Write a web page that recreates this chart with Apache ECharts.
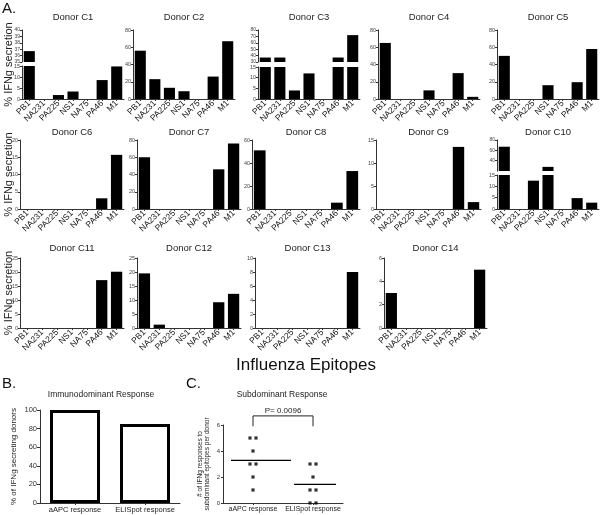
<!DOCTYPE html>
<html><head><meta charset="utf-8">
<script src="https://cdn.jsdelivr.net/npm/echarts@6/dist/echarts.min.js"></script>
<style>html,body{margin:0;padding:0;background:#fff}#c{width:600px;height:515px}</style>
</head><body><div id="c"></div><script>
// ---------------- data ----------------
const categories = ['PB1','NA231','PA225','NS1','NA75','PA46','M1'];
const donorLabels = ['Donor C1','Donor C2','Donor C3','Donor C4','Donor C5','Donor C6','Donor C7','Donor C8','Donor C9','Donor C10','Donor C11','Donor C12','Donor C13','Donor C14'];
const donorC1  = [36.7, 0, 1.8, 3.4, 0, 8.6, 14.8];
const donorC2  = [56, 23, 13, 9, 0, 26, 67];
const donorC3  = [37, 37, 4, 12, 0, 37, 72];
const donorC4  = [65, 0, 0, 10, 0, 30, 2.5];
const donorC5  = [50, 0, 0, 16, 0, 19.5, 58];
const donorC6  = [0, 0, 0, 0, 0, 3.1, 15.7];
const donorC7  = [60, 0, 0, 0, 0, 46, 76];
const donorC8  = [51, 0, 0, 0, 0, 5.5, 33];
const donorC9  = [0, 0, 0, 0, 0, 13.5, 1.5];
const donorC10 = [67, 0, 12.5, 28, 0, 4.8, 2.8];
const donorC11 = [0, 0, 0, 0, 0, 17.1, 20.1];
const donorC12 = [19.5, 1.2, 0, 0, 0, 9.2, 12.2];
const donorC13 = [0, 0, 0, 0, 0, 0, 8];
const donorC14 = [3, 0, 0, 0, 0, 0, 5];
const donorValues = [donorC1,donorC2,donorC3,donorC4,donorC5,donorC6,donorC7,donorC8,donorC9,donorC10,donorC11,donorC12,donorC13,donorC14];
// y scales [min, max, interval]
const donorScales = [[0,15,5],[0,80,20],[0,15,5],[0,80,20],[0,80,20],[0,20,5],[0,80,20],[0,60,20],[0,15,5],[0,15,5],[0,25,5],[0,25,5],[0,10,2],[0,6,2]];
// upper segment of broken axes (by donor index)
const upperScales = {0:[35,40,1], 2:[30,80,10], 9:[20,80,20]};
const yNameA = '% IFNg secretion';
const xNameA = 'Influenza Epitopes';

const bTitle = 'Immunodominant Response';
const bCategories = ['aAPC response','ELISpot response'];
const bValues = [100, 85];
const bTicks = [0,100,20];
const bYName = '% of IFNg secreting donors';

const cTitle = 'Subdominant Response';
const cCategories = ['aAPC response','ELISpot response'];
const cAPC = [5,5,4,3,3,2,1];
const cELISpot = [3,3,2,1,1,0,0];
const cTicks = [0,6,2];
const cYName = '# of IFNg responses to\nsubdominant epitopes per donor';
const pValueText = 'P= 0.0096';

// ---------------- layout ----------------
const FONT = 'Liberation Sans, Arial, sans-serif';
const rows = [[30,99,17],[140,209,132],[258,328,248]]; // top, bottom, title y
const cols = [
  [[22,124],[133,235],[258,360],[378,480],[497,599]],
  [[20,124],[137,241],[252,360],[376,481],[497,599]],
  [[20,124],[137,241],[255,360],[384,487]]
];
const breaks = {0:[62,66], 2:[62,67], 9:[171,175]};

const grid=[], xAxis=[], yAxis=[], series=[], graphic=[];
function addGrid(l,r,t,b){ grid.push({left:l, top:t, width:r-l, height:b-t}); return grid.length-1; }
const axisCol = '#333';

function donorY(g, sc, opts){
  return Object.assign({gridIndex:g, type:'value', min:sc[0], max:sc[1], interval:sc[2],
    splitLine:{show:false},
    axisLine:{show:true, lineStyle:{color:axisCol, width:1}},
    axisTick:{show:true, length:2, lineStyle:{color:axisCol}},
    axisLabel:{fontSize:5.5, color:'#444', margin:2, fontFamily:FONT}}, opts||{});
}
function donorX(g, show){
  return {gridIndex:g, type:'category', data:categories, show:show,
    axisLine:{show:true, lineStyle:{color:axisCol, width:1}},
    axisTick:{show:true, length:2, alignWithLabel:true, lineStyle:{color:axisCol}},
    axisLabel:{rotate:45, fontSize:8.5, color:'#111', margin:3, interval:0, fontFamily:FONT}};
}
function barSeries(idx, values){
  return {type:'bar', xAxisIndex:idx, yAxisIndex:idx, data:values, barCategoryGap:'24%',
    itemStyle:{color:'#000'}, clip:true, silent:true};
}

let k = 0;
rows.forEach((row, ri) => {
  cols[ri].forEach((cx) => {
    const i = k++;
    const [top, bot, ty] = row;
    const vals = donorValues[i];
    if (upperScales[i]) {
      const [ub, lt] = breaks[i];
      const gu = addGrid(cx[0], cx[1], top, ub);
      xAxis.push(donorX(gu, false));
      yAxis.push(donorY(gu, upperScales[i], {axisLabel:{fontSize:5, color:'#444', margin:2, fontFamily:FONT, showMinLabel: i!==9}}));
      series.push(barSeries(gu, vals));
      const gl = addGrid(cx[0], cx[1], lt, bot);
      xAxis.push(donorX(gl, true));
      yAxis.push(donorY(gl, donorScales[i]));
      series.push(barSeries(gl, vals));
    } else {
      const g = addGrid(cx[0], cx[1], top, bot);
      xAxis.push(donorX(g, true));
      yAxis.push(donorY(g, donorScales[i]));
      series.push(barSeries(g, vals));
    }
    graphic.push({type:'text', x:(cx[0]+cx[1])/2, y:ty,
      style:{text:donorLabels[i], font:'9.5px '+FONT, fill:'#222', align:'center', verticalAlign:'middle'}});
  });
  graphic.push({type:'text', x:9, y:(row[0]+row[1])/2, rotation:Math.PI/2,
    style:{text:yNameA, font:'11px '+FONT, fill:'#222', align:'center', verticalAlign:'middle'}});
});

graphic.push({type:'text', x:306, y:365, style:{text:xNameA, font:'17px '+FONT, fill:'#111', align:'center', verticalAlign:'middle'}});
graphic.push({type:'text', x:2, y:9, style:{text:'A.', font:'15px '+FONT, fill:'#111', align:'left', verticalAlign:'middle'}});
graphic.push({type:'text', x:2, y:384, style:{text:'B.', font:'15px '+FONT, fill:'#111', align:'left', verticalAlign:'middle'}});
graphic.push({type:'text', x:186, y:384, style:{text:'C.', font:'15px '+FONT, fill:'#111', align:'left', verticalAlign:'middle'}});
graphic.push({type:'text', x:101, y:395, style:{text:bTitle, font:'8.5px '+FONT, fill:'#222', align:'center', verticalAlign:'middle'}});
graphic.push({type:'text', x:282, y:395, style:{text:cTitle, font:'8.5px '+FONT, fill:'#222', align:'center', verticalAlign:'middle'}});

// ---- Panel B ----
const gB = addGrid(40, 180, 410, 503);
xAxis.push({gridIndex:gB, type:'category', data:bCategories,
  axisLine:{lineStyle:{color:axisCol}}, axisTick:{show:true, length:2, alignWithLabel:true},
  axisLabel:{fontSize:7.5, color:'#222', margin:3, interval:0, fontFamily:FONT}});
yAxis.push({gridIndex:gB, type:'value', min:bTicks[0], max:bTicks[1], interval:bTicks[2], splitLine:{show:false},
  axisLine:{show:true, lineStyle:{color:axisCol}}, axisTick:{show:true, length:3},
  axisLabel:{fontSize:7.5, color:'#333', margin:3, fontFamily:FONT},
  name:bYName, nameLocation:'middle', nameGap:22, nameRotate:90,
  nameTextStyle:{fontSize:8, color:'#222', fontFamily:FONT}});
series.push({type:'bar', xAxisIndex:gB, yAxisIndex:gB, data:bValues, barWidth:50,
  itemStyle:{color:'#fff', borderColor:'#000', borderWidth:3}, silent:true});

// ---- Panel C ----
const gC = addGrid(223, 343, 425, 503);
xAxis.push({gridIndex:gC, type:'category', data:cCategories,
  axisLine:{lineStyle:{color:axisCol}}, axisTick:{show:true, length:2, alignWithLabel:true},
  axisLabel:{fontSize:7, color:'#222', margin:3, interval:0, fontFamily:FONT}});
yAxis.push({gridIndex:gC, type:'value', min:cTicks[0], max:cTicks[1], interval:cTicks[2], splitLine:{show:false},
  axisLine:{show:true, lineStyle:{color:axisCol}}, axisTick:{show:true, length:2},
  axisLabel:{fontSize:6, color:'#333', margin:3, fontFamily:FONT},
  name:cYName, nameLocation:'middle', nameGap:12, nameRotate:90,
  nameTextStyle:{fontSize:6.5, color:'#222', fontFamily:FONT, lineHeight:7.5}});
function swarm(ci, vals){
  const out=[];
  const seen={};
  vals.forEach(v=>{ seen[v]=(seen[v]||0)+1; });
  const used={};
  vals.forEach(v=>{
    const n=seen[v]; const j=used[v]=(used[v]||0); used[v]++;
    out.push({value:[ci, v], symbolOffset:[(j-(n-1)/2)*6, 0]});
  });
  return out;
}
series.push({type:'scatter', xAxisIndex:gC, yAxisIndex:gC, symbol:'rect', symbolSize:3.2,
  itemStyle:{color:'#000'}, data:swarm(0, cAPC).concat(swarm(1, cELISpot)), silent:true, clip:false});
const mean = a => a.reduce((s,v)=>s+v,0)/a.length;
const meanHalf = [[22,38],[19,23]];
series.push({type:'custom', xAxisIndex:gC, yAxisIndex:gC, silent:true,
  data:[[0, mean(cAPC)],[1, mean(cELISpot)]],
  renderItem:(params, api)=>{
    const p = api.coord([api.value(0), api.value(1)]);
    const h = meanHalf[params.dataIndex];
    return {type:'line', shape:{x1:p[0]-h[0], y1:p[1], x2:p[0]+h[1], y2:p[1]}, style:{stroke:'#000', lineWidth:1.2}};
  }});
series.push({type:'custom', xAxisIndex:gC, yAxisIndex:gC, silent:true, clip:false,
  data:[[0, 6.7]],
  renderItem:(params, api)=>{
    const a = api.coord([0, 6.7]), b = api.coord([1, 6.7]);
    const a2 = api.coord([0, 5.9]), b2 = api.coord([1, 5.9]);
    return {type:'group', children:[
      {type:'polyline', shape:{points:[[a2[0],a2[1]],[a[0],a[1]],[b[0],b[1]],[b2[0],b2[1]]]}, style:{stroke:'#222', lineWidth:1, fill:null}},
      {type:'text', x:(a[0]+b[0])/2, y:a[1]-1, style:{text:pValueText, font:'8px '+FONT, fill:'#222', align:'center', verticalAlign:'bottom'}}
    ]};
  }});

const chart = echarts.init(document.getElementById('c'));
chart.setOption({animation:false, backgroundColor:'#fff', grid, xAxis, yAxis, series, graphic});
</script></body></html>
